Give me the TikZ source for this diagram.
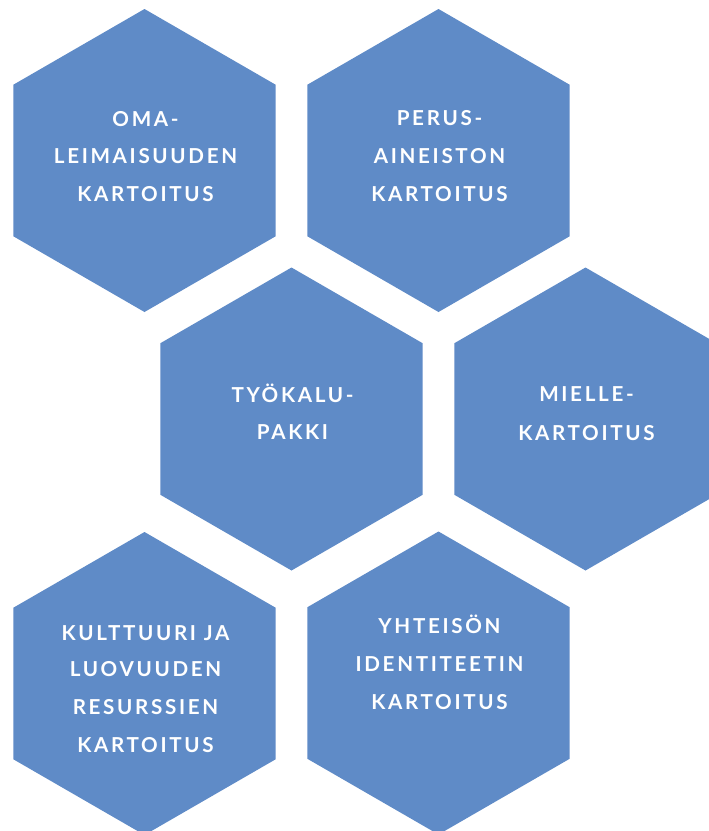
\documentclass[tikz,border=0pt]{standalone}
\usepackage{fontspec}
\newfontfamily\hexfont{Lato}[LetterSpace=13]
\definecolor{hexblue}{RGB}{95,139,199}
\tikzset{
  hexfill/.style={fill=hexblue},
  hexlabel/.style={text=white,font=\hexfont\bfseries\fontsize{20.6}{20.6}\selectfont,
    inner sep=0pt,text height=14.8pt,text depth=0pt,anchor=center}
}
\newcommand\hexpath[1]{(#1)++(0,-151.5) -- ++(131.2,75.75) -- ++(0,151.5) -- ++(-131.2,75.75) -- ++(-131.2,-75.75) -- ++(0,-151.5) -- cycle}
\begin{document}
\begin{tikzpicture}[x=1pt,y=-1pt]
\useasboundingbox (0,0) rectangle (709,831);
\clip (0,0) rectangle (709,831);
\coordinate (c1) at (144.5,160.5);
\coordinate (c2) at (438.5,160.5);
\coordinate (c3) at (291.5,419);
\coordinate (c4) at (585.5,419);
\coordinate (c5) at (144.5,683.5);
\coordinate (c6) at (438.5,683);
\foreach \c in {c1,c2,c3,c4,c5,c6}{\fill[hexfill] \hexpath{\c};}
% hexagon 1
\node[hexlabel] (t1a) at (145.5,119) {OMA-};
\node[hexlabel] (t1b) at (145.5,156.5) {LEIMAISUUDEN};
\node[hexlabel] (t1c) at (145.5,194) {KARTOITUS};
% hexagon 2
\node[hexlabel] (t2a) at (439.5,118.5) {PERUS-};
\node[hexlabel] (t2b) at (439.5,156.5) {AINEISTON};
\node[hexlabel] (t2c) at (439.5,194) {KARTOITUS};
% hexagon 3
\node[hexlabel] (t3a) at (292.5,395) {TYÖKALU-};
\node[hexlabel] (t3b) at (292.5,432.5) {PAKKI};
% hexagon 4
\node[hexlabel] (t4a) at (586.5,394) {MIELLE-};
\node[hexlabel] (t4b) at (586.5,433) {KARTOITUS};
% hexagon 5
\node[hexlabel] (t5a) at (145.5,633) {KULTTUURI JA};
\node[hexlabel] (t5b) at (145.5,669.5) {LUOVUUDEN};
\node[hexlabel] (t5c) at (145.5,707.5) {RESURSSIEN};
\node[hexlabel] (t5d) at (145.5,745.5) {KARTOITUS};
% hexagon 6
\node[hexlabel] (t6a) at (439.5,626.5) {YHTEISÖN};
\node[hexlabel] (t6b) at (439.5,664.5) {IDENTITEETIN};
\node[hexlabel] (t6c) at (439.5,702.5) {KARTOITUS};
\end{tikzpicture}
\end{document}
